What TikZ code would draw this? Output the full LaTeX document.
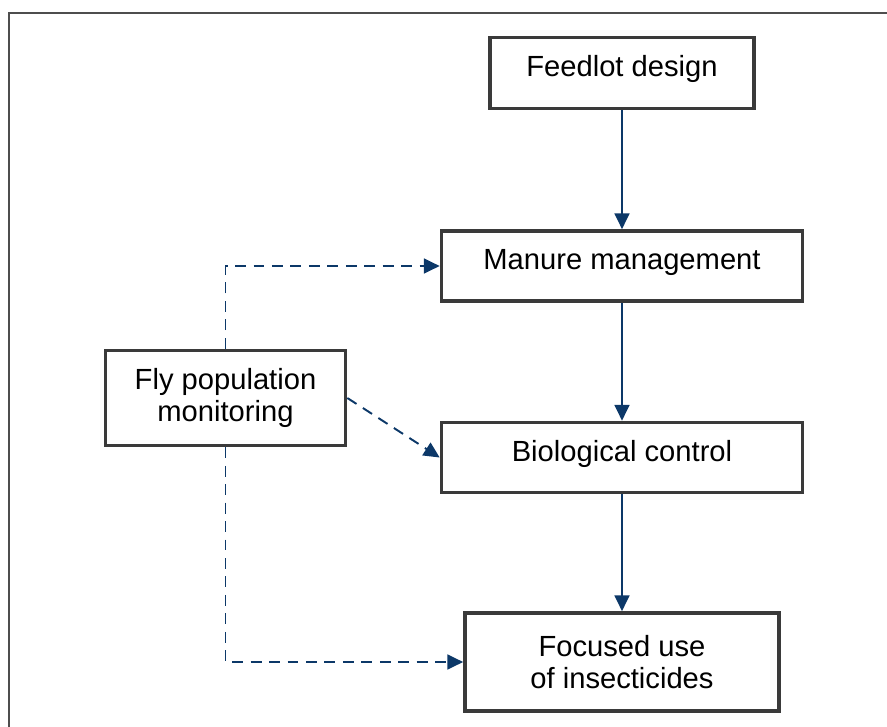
\documentclass[tikz,border=0pt]{standalone}
\usepackage{fontspec}
\setmainfont{Liberation Sans}
\usetikzlibrary{arrows.meta}

\definecolor{flowblue}{RGB}{12,56,104}
\definecolor{boxgray}{RGB}{58,58,58}

\begin{document}
\begin{tikzpicture}[x=0.02cm, y=-0.02cm,
    stepbox/.style={draw=boxgray, line width=2.1pt, fill=white, align=center,
      font=\fontsize{16.6}{18}\selectfont, inner sep=0pt},
    onerow/.style={text depth=7.5pt},
    flow/.style={flowblue, line width=1.1pt, -{Triangle[length=9pt,width=8.5pt]}},
    dashflow/.style={flow, dash pattern=on 6.2pt off 4.3pt}]
    \useasboundingbox (0,0) rectangle (887,727);
    % outer frame, cut by the page at right and bottom
    \draw[boxgray!90, line width=1.6pt] (9,740) -- (9,13) -- (900,13);

    \node[stepbox, onerow, minimum width=264*0.02cm, minimum height=71*0.02cm]
      (feedlot) at (622,73) {Feedlot design};
    \node[stepbox, onerow, minimum width=361*0.02cm, minimum height=70*0.02cm]
      (manure) at (622,266) {Manure management};
    \node[stepbox, onerow, minimum width=361*0.02cm, minimum height=70*0.02cm]
      (bio) at (622,457.5) {Biological control};
    \node[stepbox, minimum width=314*0.02cm, minimum height=98*0.02cm]
      (focused) at (622,662) {Focused use\\of insecticides};
    \node[stepbox, minimum width=240*0.02cm, minimum height=95*0.02cm]
      (fly) at (225.5,398) {Fly population\\monitoring};

    \draw[flow] (feedlot) -- (manure);
    \draw[flow] (manure) -- (bio);
    \draw[flow] (bio) -- (focused);

    \draw[dashflow] (fly.north) |- (manure.west);
    \draw[dashflow] (fly.east) -- (bio.west);
    \draw[dashflow] (fly.south) |- (focused.west);
  \end{tikzpicture}
\end{document}
